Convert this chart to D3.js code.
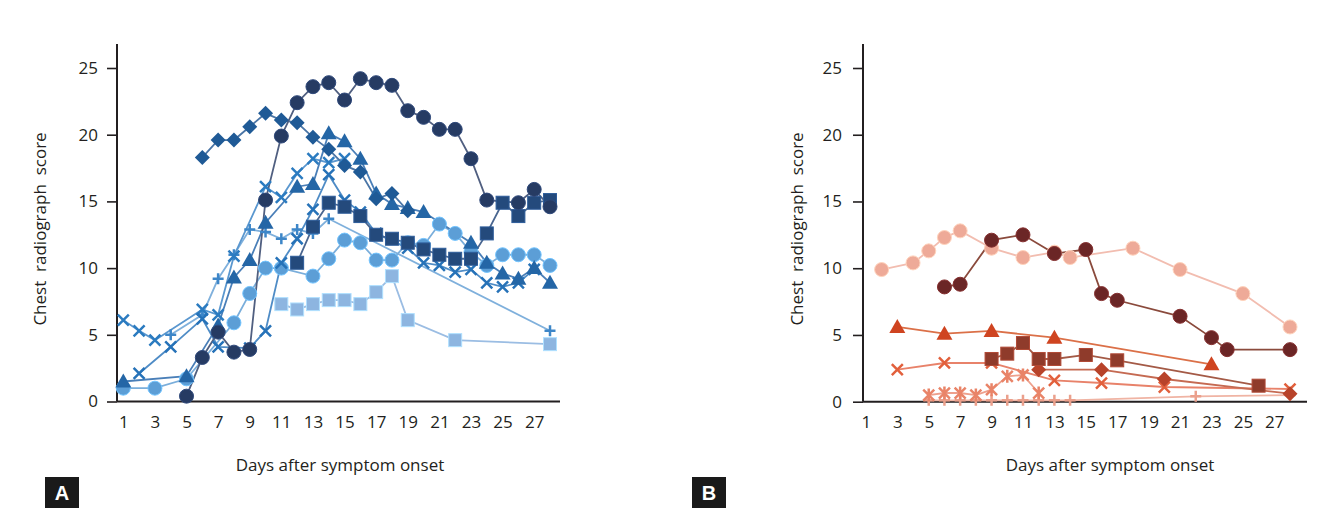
<!DOCTYPE html>
<html><head><meta charset="utf-8">
<script src="https://cdn.jsdelivr.net/npm/d3@7"></script>
<style>body{margin:0;background:#fff}svg{display:block}</style>
</head><body>
<svg id="chart" width="1330" height="523"></svg>
<script>
// ---------- shared tick labels ----------
const dayTicks = [1,3,5,7,9,11,13,15,17,19,21,23,25,27];
const scoreTicks = [0,5,10,15,20,25];
const yTitle = "Chest  radiograph  score";
const xTitle = "Days after symptom onset";

// ---------- Panel A series ----------
const aNavyCircleDays = [5,6,7,8,9,10,11,12,13,14,15,16,17,18,19,20,21,22,23,24,26,27,28];
const aNavyCircleVals = [0.4,3.3,5.2,3.7,3.9,15.1,19.9,22.4,23.6,23.9,22.6,24.2,23.9,23.7,21.8,21.3,20.4,20.4,18.2,15.1,14.9,15.9,14.6];
const aDiamondDays = [6,7,8,9,10,11,12,13,14,15,16,17,18,19];
const aDiamondVals = [18.3,19.6,19.6,20.6,21.6,21.1,20.9,19.8,18.9,17.7,17.2,15.2,15.6,14.3];
const aTriangleDays = [1,5,7,8,9,10,12,13,14,15,16,17,18,19,20,23,24,25,26,27,28];
const aTriangleVals = [1.5,1.9,5.7,9.3,10.6,13.4,16.1,16.3,20.1,19.5,18.2,15.6,14.8,14.5,14.2,11.9,10.4,9.6,9.2,10.0,8.9];
const aNavySquareDays = [12,13,14,15,16,17,18,19,20,21,22,23,24,25,26,27,28];
const aNavySquareVals = [10.4,13.1,14.9,14.6,13.9,12.5,12.2,11.9,11.4,11.0,10.7,10.7,12.6,14.9,13.9,14.9,15.1];
const aLightCircleDays = [1,3,5,8,9,10,11,13,14,15,16,17,18,19,20,21,22,23,24,25,26,27,28];
const aLightCircleVals = [1.0,1.0,1.7,5.9,8.1,10.0,10.0,9.4,10.7,12.1,11.9,10.6,10.6,11.9,11.7,13.3,12.6,11.2,10.2,11.0,11.0,11.0,10.2];
const aPaleSquareDays = [11,12,13,14,15,16,17,18,19,22,28];
const aPaleSquareVals = [7.3,6.9,7.3,7.6,7.6,7.3,8.2,9.4,6.1,4.6,4.3];
const aCrossADays = [1,2,3,6,7,8,10,11,12,13,14,15];
const aCrossAVals = [6.1,5.3,4.6,6.9,6.5,10.9,16.1,15.3,17.1,18.2,17.9,18.2];
const aCrossBDays = [2,4,6,7,9,10,11,12,13,14,15,16,17,19,20,21,22,23,24,25,26,27];
const aCrossBVals = [2.1,4.1,6.2,4.1,4.0,5.3,10.4,12.2,14.4,17.0,15.1,14.2,12.6,11.5,10.4,10.2,9.7,9.9,8.9,8.6,8.9,9.9];
const aPlusDays = [4,6,7,8,9,10,11,12,13,14,28];
const aPlusVals = [5.0,6.5,9.2,11.0,12.9,12.7,12.2,12.9,12.6,13.7,5.3];

// ---------- Panel B series ----------
const bPinkCircleDays = [2,4,5,6,7,9,11,13,14,18,21,25,28];
const bPinkCircleVals = [9.9,10.4,11.3,12.3,12.8,11.5,10.8,11.2,10.8,11.5,9.9,8.1,5.6];
const bDarkCircleDays = [6,7,9,11,13,15,16,17,21,23,24,28];
const bDarkCircleVals = [8.6,8.8,12.1,12.5,11.1,11.4,8.1,7.6,6.4,4.8,3.9,3.9];
const bTriangleDays = [3,6,9,13,23];
const bTriangleVals = [5.6,5.1,5.3,4.8,2.8];
const bSquareDays = [9,10,11,12,13,15,17,26];
const bSquareVals = [3.2,3.6,4.4,3.2,3.2,3.5,3.1,1.2];
const bDiamondDays = [12,16,20,28];
const bDiamondVals = [2.4,2.4,1.7,0.6];
const bCrossDays = [3,6,9,13,16,20,28];
const bCrossVals = [2.4,2.9,2.9,1.6,1.4,1.1,0.95];
const bAsteriskDays = [5,6,7,8,9,10,11,12];
const bAsteriskVals = [0.5,0.65,0.65,0.5,0.9,1.9,2.0,0.65];
const bPlusDays = [5,6,7,8,9,10,11,12,13,14,22,28];
const bPlusVals = [0.1,0.1,0.1,0.1,0.1,0.1,0.1,0.1,0.1,0.1,0.4,0.5];

// ---------- build series lists ----------
const zip = (d, v) => d.map((x, i) => ({day: x, val: v[i]}));
const panelA = [
  {pts: zip(aPaleSquareDays, aPaleSquareVals), shape: "square", fill: "#8db5e0", line: "#9bbde3"},
  {pts: zip(aPlusDays, aPlusVals), shape: "plus", fill: "#3d86c8", line: "#7fb0dc"},
  {pts: zip(aLightCircleDays, aLightCircleVals), shape: "circle", fill: "#5c9ed6", line: "#7aaedb"},
  {pts: zip(aCrossADays, aCrossAVals), shape: "cross", fill: "#2b7bc0", line: "#5a97cf"},
  {pts: zip(aCrossBDays, aCrossBVals), shape: "cross", fill: "#2672b8", line: "#4f8cc6"},
  {pts: zip(aTriangleDays, aTriangleVals), shape: "triangle", fill: "#2466a6", line: "#4a7fb8"},
  {pts: zip(aDiamondDays, aDiamondVals), shape: "diamond", fill: "#1f5a96", line: "#4a75a6"},
  {pts: zip(aNavySquareDays, aNavySquareVals), shape: "square", fill: "#244a7c", line: "#4a6690"},
  {pts: zip(aNavyCircleDays, aNavyCircleVals), shape: "circle", fill: "#263b63", line: "#505f80"}
];
const panelB = [
  {pts: zip(bPlusDays, bPlusVals), shape: "plus", fill: "#eba08c", line: "#f0b4a4"},
  {pts: zip(bAsteriskDays, bAsteriskVals), shape: "asterisk", fill: "#e98468", line: "#eea08c"},
  {pts: zip(bPinkCircleDays, bPinkCircleVals), shape: "circle", fill: "#eeaa98", line: "#f2bdb0"},
  {pts: zip(bCrossDays, bCrossVals), shape: "cross", fill: "#e2603c", line: "#e8826a"},
  {pts: zip(bDiamondDays, bDiamondVals), shape: "diamond", fill: "#b8432a", line: "#c56a52"},
  {pts: zip(bSquareDays, bSquareVals), shape: "square", fill: "#8f3b2b", line: "#a45a46"},
  {pts: zip(bTriangleDays, bTriangleVals), shape: "triangle", fill: "#cf4420", line: "#db7048"},
  {pts: zip(bDarkCircleDays, bDarkCircleVals), shape: "circle", fill: "#6b2626", line: "#8a4a3c"}
];

const svg = d3.select("#chart");
const FONT = "'Liberation Sans Narrow','Open Sans',sans-serif";

function marker(g, shape, x, y, color) {
  if (shape === "circle") {
    g.append("circle").attr("cx", x).attr("cy", y).attr("r", 7)
      .attr("fill", color).attr("stroke", d3.color(color).brighter(0.6)).attr("stroke-width", 1);
  } else if (shape === "square") {
    g.append("rect").attr("x", x - 6.5).attr("y", y - 6.5).attr("width", 13).attr("height", 13)
      .attr("fill", color).attr("stroke", d3.color(color).brighter(0.6)).attr("stroke-width", 1);
  } else if (shape === "diamond") {
    const s = 7.5;
    g.append("path").attr("d", `M${x},${y-s}L${x+s},${y}L${x},${y+s}L${x-s},${y}Z`).attr("fill", color);
  } else if (shape === "triangle") {
    const s = 8;
    g.append("path").attr("d", `M${x},${y-s}L${x+s},${y+s*0.75}L${x-s},${y+s*0.75}Z`).attr("fill", color);
  } else {
    const s = 5.5;
    let d = "";
    if (shape === "cross" || shape === "asterisk") d += `M${x-s},${y-s}L${x+s},${y+s}M${x-s},${y+s}L${x+s},${y-s}`;
    if (shape === "plus") d += `M${x-s},${y}L${x+s},${y}M${x},${y-s}L${x},${y+s}`;
    if (shape === "asterisk") d += `M${x},${y-s-1}L${x},${y+s+1}`;
    g.append("path").attr("d", d).attr("stroke", color).attr("stroke-width", 2.5).attr("fill", "none");
  }
}

function drawPanel(cfg) {
  const x = d3.scaleLinear().domain([0, 28]).range(cfg.xRange);
  const y = d3.scaleLinear().domain([0, 25]).range([cfg.y0, cfg.y25]);
  const g = svg.append("g");

  // axes lines
  g.append("line").attr("x1", cfg.axisX).attr("x2", cfg.axisX).attr("y1", cfg.axisTop).attr("y2", cfg.y0)
    .attr("stroke", "#231f20").attr("stroke-width", 2);
  g.append("line").attr("x1", cfg.axisX).attr("x2", cfg.axisRight).attr("y1", cfg.y0).attr("y2", cfg.y0)
    .attr("stroke", "#231f20").attr("stroke-width", 2);

  // y axis ticks + labels
  const yAxis = d3.axisLeft(y).tickValues(scoreTicks).tickSize(10).tickPadding(cfg.yPad);
  const ya = g.append("g").attr("transform", `translate(${cfg.axisX},0)`).call(yAxis);
  ya.select(".domain").remove();
  ya.selectAll("line").attr("stroke", "#231f20").attr("stroke-width", 1.6);
  ya.selectAll("text").attr("font-family", FONT).attr("font-size", 17).attr("fill", "#231f20");

  // x axis labels (no tick marks)
  const xAxis = d3.axisBottom(x).tickValues(dayTicks).tickSize(0).tickPadding(14);
  const xa = g.append("g").attr("transform", `translate(0,${cfg.y0})`).call(xAxis);
  xa.select(".domain").remove();
  xa.selectAll("text").attr("font-family", FONT).attr("font-size", 17).attr("fill", "#231f20");

  // titles
  g.append("text").attr("transform", `translate(${cfg.yTitleX},${cfg.yTitleY}) rotate(-90)`)
    .attr("text-anchor", "middle").attr("font-family", FONT).attr("font-size", 17)
    .attr("fill", "#231f20").attr("xml:space", "preserve").style("white-space", "pre").text(yTitle);
  g.append("text").attr("x", cfg.xTitleX).attr("y", 471).attr("text-anchor", "middle")
    .attr("font-family", FONT).attr("font-size", 17).attr("fill", "#231f20").text(xTitle);

  // panel letter box
  g.append("rect").attr("x", cfg.boxX).attr("y", 477).attr("width", 34).attr("height", 31).attr("fill", "#1a1a1a");
  g.append("text").attr("x", cfg.boxX + 17).attr("y", 500).attr("text-anchor", "middle")
    .attr("font-family", "'Liberation Sans','DejaVu Sans',sans-serif").attr("font-weight", "bold")
    .attr("font-size", 20).attr("fill", "#fff").text(cfg.letter);

  // lines
  const line = d3.line().x(d => x(d.day)).y(d => y(d.val));
  cfg.series.forEach(s => {
    g.append("path").attr("d", line(s.pts)).attr("fill", "none")
      .attr("stroke", s.line).attr("stroke-width", 1.8);
  });
  // markers
  cfg.series.forEach(s => {
    const mg = g.append("g");
    s.pts.forEach(p => marker(mg, s.shape, x(p.day), y(p.val), s.fill));
  });
}

drawPanel({series: panelA, xRange: [107.5, 550], y0: 401.5, y25: 68, axisX: 117, axisTop: 44,
  axisRight: 560, yPad: 9, yTitleX: 46, yTitleY: 229, xTitleX: 340, boxX: 45, letter: "A"});
drawPanel({series: panelB, xRange: [850.2, 1290], y0: 401.7, y25: 68, axisX: 863, axisTop: 44,
  axisRight: 1307, yPad: 11, yTitleX: 803, yTitleY: 229, xTitleX: 1110, boxX: 692, letter: "B"});
</script>
</body></html>
